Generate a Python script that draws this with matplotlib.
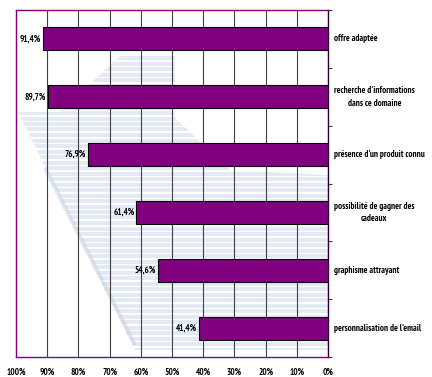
import numpy as np
import matplotlib.pyplot as plt
from matplotlib.patches import Polygon
from matplotlib.collections import LineCollection

# données
categories = ["offre adaptée",
              "recherche d'informations\ndans ce domaine",
              "présence d'un produit connu",
              "possibilité de gagner des\ncadeaux",
              "graphisme attrayant",
              "personnalisation de l'email"]
values = [91.4, 89.7, 76.9, 61.4, 54.6, 41.4]
value_labels = ["91,4%", "89,7%", "76,9%", "61,4%", "54,6%", "41,4%"]
xticks = [100, 90, 80, 70, 60, 50, 40, 30, 20, 10, 0]

plt.rcParams['font.family'] = ['PT Sans Narrow', 'DejaVu Sans']
plt.rcParams['font.weight'] = 'bold'

W, H = 432, 377
fig = plt.figure(figsize=(W / 100, H / 100), dpi=100)
ax = fig.add_axes([16 / W, 20 / H, 312 / W, 347 / H])


def fpx(pts):
    # pixels (origine en haut à gauche) -> fraction de figure
    return [(px / W, 1 - py / H) for px, py in pts]


# filigrane de fond (bandes bleu pâle, très discrètes)
shape = Polygon(fpx([(120, 56), (175, 56), (175, 118), (230, 170), (328, 175),
                     (328, 350), (135, 350), (18, 112), (60, 112)]),
                closed=True, transform=fig.transFigure, facecolor='none', edgecolor='none')
ax.add_patch(shape)
ys = np.arange(58, 350, 5.5)
segs = [fpx([(16, yy), (328, yy)]) for yy in ys]
stripes = LineCollection(segs, colors='#dae4f1', linewidths=2.8, alpha=0.75,
                         transform=fig.transFigure, zorder=0.5)
stripes.set_clip_path(shape)
ax.add_collection(stripes)
edge = LineCollection([fpx([(45, 168), (135, 345)])], colors='#c3cfdf', linewidths=3,
                      alpha=0.5, transform=fig.transFigure, zorder=0.6)
ax.add_collection(edge)

n = len(categories)
y = np.arange(n)
ax.barh(y, values, height=0.4, color='#800080', edgecolor='black', linewidth=0.8, zorder=3)

for yi, v, lab in zip(y, values, value_labels):
    ax.text(v + 0.6, yi, lab, ha='right', va='center', fontsize=6.5, fontweight='bold', zorder=4)

ax.set_xlim(100, 0)
ax.set_ylim(n - 0.5, -0.5)
ax.set_xticks(xticks)
ax.set_xticklabels([f"{t}%" for t in xticks], fontsize=6.5, fontweight='bold')
ax.tick_params(axis='x', length=0, pad=8)

ax.grid(axis='x', color='#404040', linewidth=0.8, zorder=1)

# axe des catégories à droite
ax.yaxis.tick_right()
ax.set_yticks(np.arange(n + 1) - 0.5, minor=False)
ax.set_yticklabels([])
ax.tick_params(axis='y', length=3, color='#404040', direction='out')
for yi, cat in zip(y, categories):
    ax.text(-2.0, yi, cat, ha='left', va='center', multialignment='center',
            fontsize=6.5, fontweight='bold', linespacing=1.5, clip_on=False)

for side in ['left', 'top', 'bottom']:
    ax.spines[side].set_color('#800080')
ax.spines['right'].set_color('#300030')
for s in ax.spines.values():
    s.set_linewidth(1.0)

fig.savefig('out.png', dpi=100)
